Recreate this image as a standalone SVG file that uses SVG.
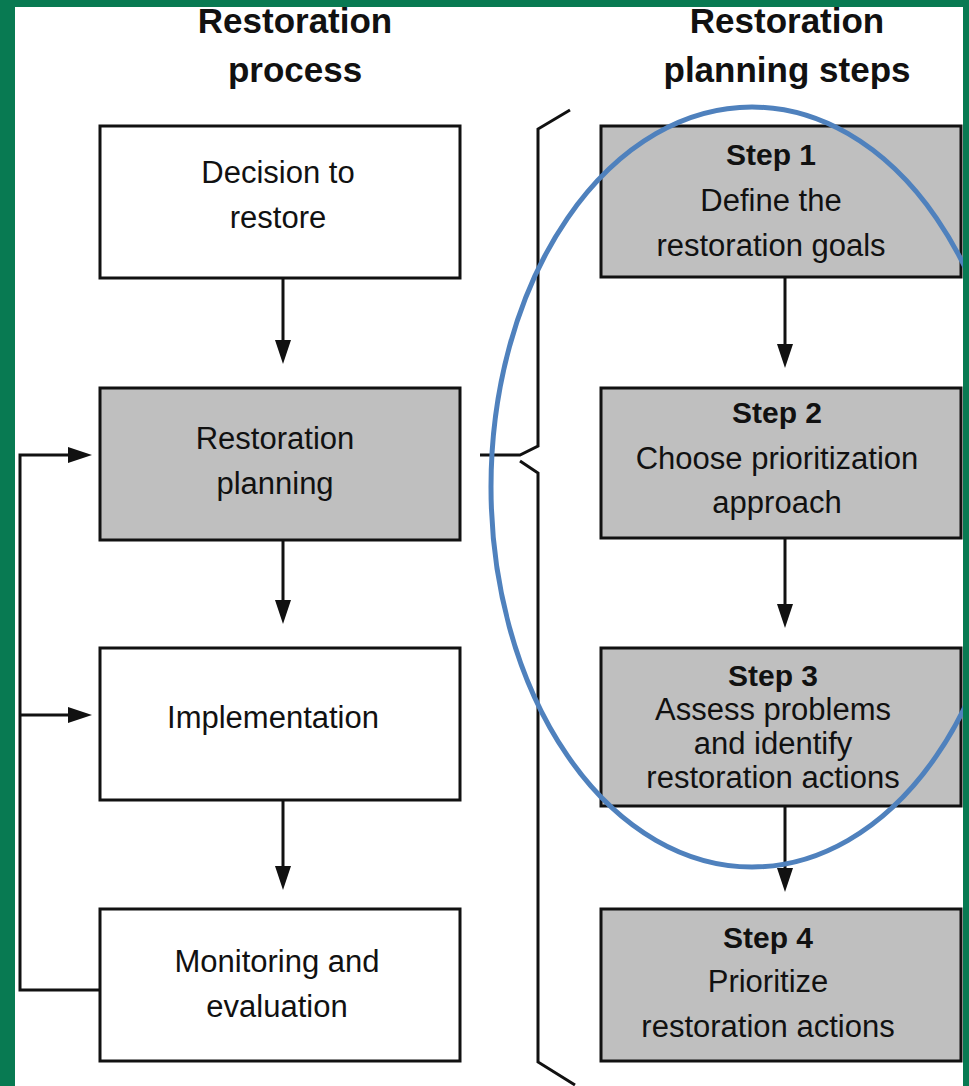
<svg xmlns="http://www.w3.org/2000/svg" width="969" height="1086" viewBox="0 0 969 1086">
<defs>
<style>
.box{stroke:#111;stroke-width:3}
.w{fill:#fff}
.g{fill:#bfbfbf}
text{font-family:"Liberation Sans",Arial,sans-serif;fill:#111;text-anchor:middle}
.t{font-size:31px}
.b{font-size:30px;font-weight:bold}
.h{font-size:35px;font-weight:bold}
.ln{stroke:#111;stroke-width:3;fill:none}
.ah{fill:#111}
</style>
</defs>
<rect x="0" y="0" width="969" height="1086" fill="#fff"/>
<g id="headers">
<text class="h" x="295" y="33">Restoration</text>
<text class="h" x="295" y="82">process</text>
<text class="h" x="787" y="33">Restoration</text>
<text class="h" x="787" y="82">planning steps</text>
</g>
<g id="connectors">
<path class="ln" d="M283,278 V342"/><path class="ah" d="M275,340 L291,340 L283,364 z"/>
<path class="ln" d="M283,540 V602"/><path class="ah" d="M275,600 L291,600 L283,624 z"/>
<path class="ln" d="M283,800 V868"/><path class="ah" d="M275,866 L291,866 L283,890 z"/>
<path class="ln" d="M785,277 V346"/><path class="ah" d="M777,344 L793,344 L785,368 z"/>
<path class="ln" d="M785,538 V606"/><path class="ah" d="M777,604 L793,604 L785,628 z"/>
<path class="ln" d="M785,806 V870"/><path class="ah" d="M777,868 L793,868 L785,892 z"/>
<path class="ln" d="M100,990 H20 V455 H70"/><path class="ah" d="M68,447 L68,463 L92,455 z"/>
<path class="ln" d="M20,715 H70"/><path class="ah" d="M68,707 L68,723 L92,715 z"/>
<path class="ln" stroke-width="2.5" d="M570,110 L538,129 V446 L520,455 H480 M520,461 L538,473 V1062 L575,1085"/>
</g>
<g id="n1"><rect class="box w" x="100" y="126" width="360" height="152"/><text class="t" x="278" y="183">Decision to</text><text class="t" x="278" y="228">restore</text></g>
<g id="n2"><rect class="box g" x="100" y="388" width="360" height="152"/><text class="t" x="275" y="449">Restoration</text><text class="t" x="275" y="494">planning</text></g>
<g id="n3"><rect class="box w" x="100" y="648" width="360" height="152"/><text class="t" x="273" y="728">Implementation</text></g>
<g id="n4"><rect class="box w" x="100" y="909" width="360" height="152"/><text class="t" x="277" y="972">Monitoring and</text><text class="t" x="277" y="1017">evaluation</text></g>
<g id="s1"><rect class="box g" x="601" y="126" width="360" height="151"/><text class="b" x="771" y="165">Step 1</text><text class="t" x="771" y="211">Define the</text><text class="t" x="771" y="256">restoration goals</text></g>
<g id="s2"><rect class="box g" x="601" y="388" width="360" height="150"/><text class="b" x="777" y="423">Step 2</text><text class="t" x="777" y="469">Choose prioritization</text><text class="t" x="777" y="513">approach</text></g>
<g id="s3"><rect class="box g" x="601" y="648" width="360" height="158"/><text class="b" x="773" y="686">Step 3</text><text class="t" x="773" y="720">Assess problems</text><text class="t" x="773" y="754">and identify</text><text class="t" x="773" y="788">restoration actions</text></g>
<g id="s4"><rect class="box g" x="601" y="909" width="360" height="152"/><text class="b" x="768" y="948">Step 4</text><text class="t" x="768" y="992">Prioritize</text><text class="t" x="768" y="1037">restoration actions</text></g>
<ellipse id="highlight" cx="752" cy="487" rx="261" ry="380" fill="none" stroke="#4f81bd" stroke-width="5"/>
<path id="frame" fill="#087a52" fill-rule="evenodd" d="M0,0 H969 V1086 H0 Z M15,7 V1086 H963 V7 Z"/>
</svg>
